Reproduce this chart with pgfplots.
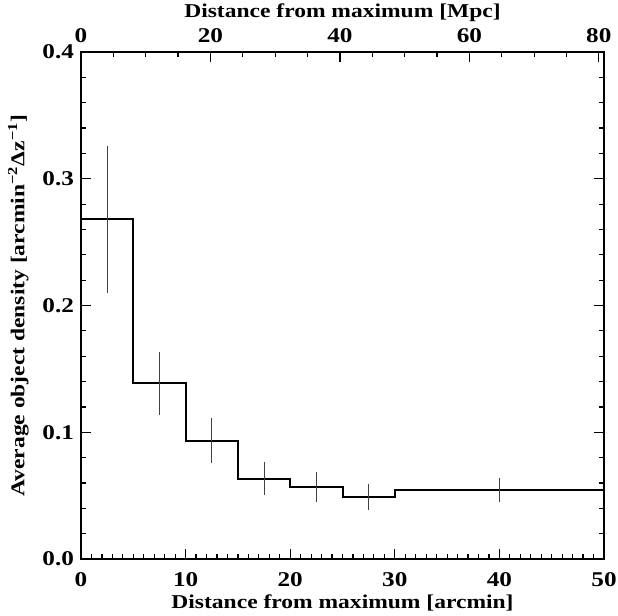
\documentclass[border=0pt]{standalone}
\usepackage{fontspec}
\setmainfont{Liberation Serif}[FakeStretch=1.2]
\usepackage{pgfplots}
\pgfplotsset{compat=1.18}
\begin{document}
\begin{tikzpicture}
\pgfplotsset{
 idl/.style={
  width=261.5pt, height=253.5pt, scale only axis,
  font=\fontsize{9.8}{11}\selectfont\bfseries,
  tick label style={font=\fontsize{10.5}{11}\selectfont\bfseries},
  axis line style={line width=0.75pt},
  tick style={line width=0.6pt, black},
  major tick length=5pt, minor tick length=2.5pt,
  tick align=inside,
  /pgf/number format/assume math mode=true,
 }
}
\begin{axis}[idl, name=main,
  xmin=0, xmax=50, ymin=0, ymax=0.4,
  xtick={0,10,20,30,40,50}, minor x tick num=9,
  ytick={0,0.1,0.2,0.3,0.4}, yticklabels={0.0,0.1,0.2,0.3,0.4}, minor y tick num=4,
  xtick pos=bottom, ytick pos=both,
  xlabel={Distance from maximum [arcmin]},
  ylabel={Average object density [arcmin\textsuperscript{−2}Δz\textsuperscript{−1}]},
  x tick label style={yshift=-3pt},
  xlabel style={yshift=2.5pt},
  ylabel style={yshift=0pt},
]
\addplot[const plot, line width=1pt, black] coordinates {
 (0,0.268) (5,0.1385) (10,0.0933) (15,0.0634) (20,0.0568) (25,0.0492) (30,0.0542) (50,0.0542)
};
\addplot[draw=none, mark=none,
  error bars/.cd, y dir=both, y explicit, error mark=none,
  error bar style={draw=black!75, line width=0.5pt}] coordinates {
 (2.5,0.268) +- (0,0.058)
 (7.5,0.1385) +- (0,0.0247)
 (12.5,0.0933) +- (0,0.0178)
 (17.5,0.0634) +- (0,0.013)
 (22.5,0.0568) +- (0,0.0116)
 (27.5,0.0492) +- (0,0.0102)
 (40,0.0542) +- (0,0.0095)
};
\end{axis}
\begin{axis}[idl,
  xmin=0, xmax=80.8, ymin=0, ymax=1,
  axis x line*=top, hide y axis,
  xtick={0,20,40,60,80}, minor x tick num=3,
  x tick label style={yshift=1pt},
  xlabel={Distance from maximum [Mpc]},
  xlabel style={yshift=-3.5pt},
]
\end{axis}
\pgfresetboundingbox
\path[use as bounding box] ([xshift=-40.5pt,yshift=-28pt]main.south west) rectangle ([xshift=7pt,yshift=26pt]main.north east);
\end{tikzpicture}
\end{document}
